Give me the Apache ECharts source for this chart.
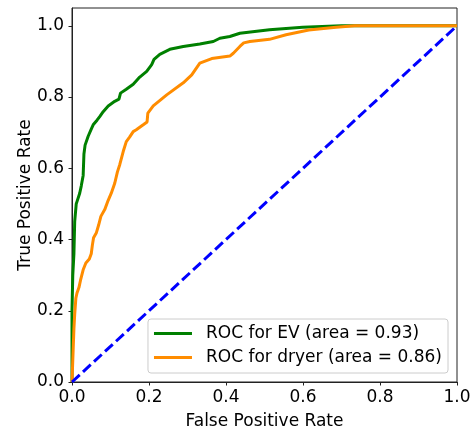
<!DOCTYPE html>
<html>
<head>
<meta charset="utf-8">
<script src="https://cdn.jsdelivr.net/npm/echarts@6/dist/echarts.min.js"></script>
<style>
	html, body { margin: 0; padding: 0; background: #fff; }
	#roc { width: 476px; height: 432px; }
</style>
</head>
<body>
<div id="roc"></div>
<script>
// ROC points [FPR, TPR]
var evRoc = [
	[0, 0], [0, 0.2], [0.002, 0.3], [0.005, 0.36], [0.007, 0.45], [0.011, 0.5], [0.014, 0.51],
	[0.02, 0.53], [0.024, 0.55], [0.029, 0.58], [0.031, 0.64], [0.034, 0.665], [0.042, 0.69],
	[0.05, 0.71], [0.055, 0.722], [0.065, 0.735], [0.072, 0.745], [0.081, 0.759], [0.094, 0.775],
	[0.111, 0.788], [0.122, 0.794], [0.126, 0.811], [0.141, 0.822], [0.159, 0.836], [0.176, 0.856],
	[0.194, 0.872], [0.207, 0.891], [0.213, 0.906], [0.228, 0.92], [0.254, 0.934], [0.289, 0.942],
	[0.332, 0.949], [0.367, 0.956], [0.384, 0.965], [0.41, 0.97], [0.436, 0.979], [0.513, 0.989],
	[0.599, 0.996], [0.7, 1.0], [1, 1]
];
var dryerRoc = [
	[0, 0], [0.003, 0.09], [0.005, 0.15], [0.007, 0.19], [0.01, 0.235], [0.013, 0.25], [0.018, 0.265],
	[0.022, 0.285], [0.029, 0.315], [0.036, 0.334], [0.045, 0.345], [0.05, 0.36], [0.053, 0.385],
	[0.056, 0.405], [0.063, 0.418], [0.069, 0.44], [0.075, 0.465], [0.085, 0.484], [0.094, 0.51],
	[0.102, 0.53], [0.111, 0.558], [0.118, 0.59], [0.124, 0.61], [0.133, 0.647], [0.141, 0.675],
	[0.15, 0.688], [0.159, 0.703], [0.167, 0.708], [0.185, 0.722], [0.195, 0.73], [0.197, 0.755],
	[0.211, 0.775], [0.246, 0.806], [0.289, 0.84], [0.311, 0.862], [0.332, 0.895], [0.363, 0.908],
	[0.41, 0.915], [0.419, 0.923], [0.436, 0.942], [0.446, 0.952], [0.462, 0.956], [0.513, 0.962],
	[0.556, 0.975], [0.615, 0.988], [0.686, 0.996], [0.734, 1.0], [1, 1]
];
var chanceLine = [[0, 0], [1, 1]];
var tickValues = [0, 0.2, 0.4, 0.6, 0.8, 1.0];
var seriesNames = ["ROC for EV (area = 0.93)", "ROC for dryer (area = 0.86)"];

var font = "DejaVu Sans";
var fs = 17;
var myChart = echarts.init(document.getElementById("roc"));

var option = {
	animation: false,
	textStyle: { fontFamily: font },
	grid: {
		left: 72, right: 19, top: 8, bottom: 50,
		outerBoundsMode: "none",
		show: true, borderColor: "#222", borderWidth: 1
	},
	xAxis: {
		type: "value", min: 0, max: 1, interval: 0.2,
		name: "False Positive Rate", nameLocation: "middle", nameGap: 31, nameMoveOverlap: false,
		nameTextStyle: { fontFamily: font, fontSize: fs, color: "#000" },
		axisLine: { lineStyle: { color: "#222", width: 1 } },
		axisTick: { show: true, length: 3.5, lineStyle: { color: "#222" }, customValues: tickValues },
		axisLabel: {
			fontFamily: font, fontSize: fs, color: "#000", margin: 7,
			customValues: tickValues,
			formatter: function (v) { return v.toFixed(1); }
		},
		splitLine: { show: false }
	},
	yAxis: {
		type: "value", min: 0, max: 1.05, interval: 0.2,
		name: "True Positive Rate", nameLocation: "middle", nameGap: 38, nameMoveOverlap: false,
		nameTextStyle: { fontFamily: font, fontSize: fs, color: "#000" },
		axisLine: { show: true, lineStyle: { color: "#222", width: 1 } },
		axisTick: { show: true, length: 3.5, lineStyle: { color: "#222" }, customValues: tickValues },
		axisLabel: {
			fontFamily: font, fontSize: fs, color: "#000", margin: 8,
			customValues: tickValues,
			formatter: function (v) { return v.toFixed(1); }
		},
		splitLine: { show: false }
	},
	legend: {
		data: seriesNames,
		orient: "vertical",
		right: 28, bottom: 59,
		icon: "rect",
		itemWidth: 38, itemHeight: 3, itemGap: 5,
		padding: [5, 6, 6, 6],
		borderColor: "#cccccc", borderWidth: 1, borderRadius: 3,
		backgroundColor: "rgba(255,255,255,0.8)",
		textStyle: { fontFamily: font, fontSize: fs, color: "#000", lineHeight: 19, padding: [0, 0, 0, 9] }
	},
	series: [
		{
			name: seriesNames[0], type: "line", data: evRoc,
			showSymbol: false, symbol: "none", clip: true,
			lineStyle: { color: "#008000", width: 3 }, itemStyle: { color: "#008000" }
		},
		{
			name: seriesNames[1], type: "line", data: dryerRoc,
			showSymbol: false, symbol: "none", clip: true,
			lineStyle: { color: "#ff8c00", width: 3 }, itemStyle: { color: "#ff8c00" }
		},
		{
			name: "chance", type: "line", data: chanceLine,
			showSymbol: false, symbol: "none", clip: true,
			lineStyle: { color: "#0000ff", width: 3, type: [10.5, 4.5] }, itemStyle: { color: "#0000ff" }
		}
	]
};
myChart.setOption(option, true);
window.addEventListener("resize", function () {
	myChart.resize();
});
</script>
</body>
</html>
